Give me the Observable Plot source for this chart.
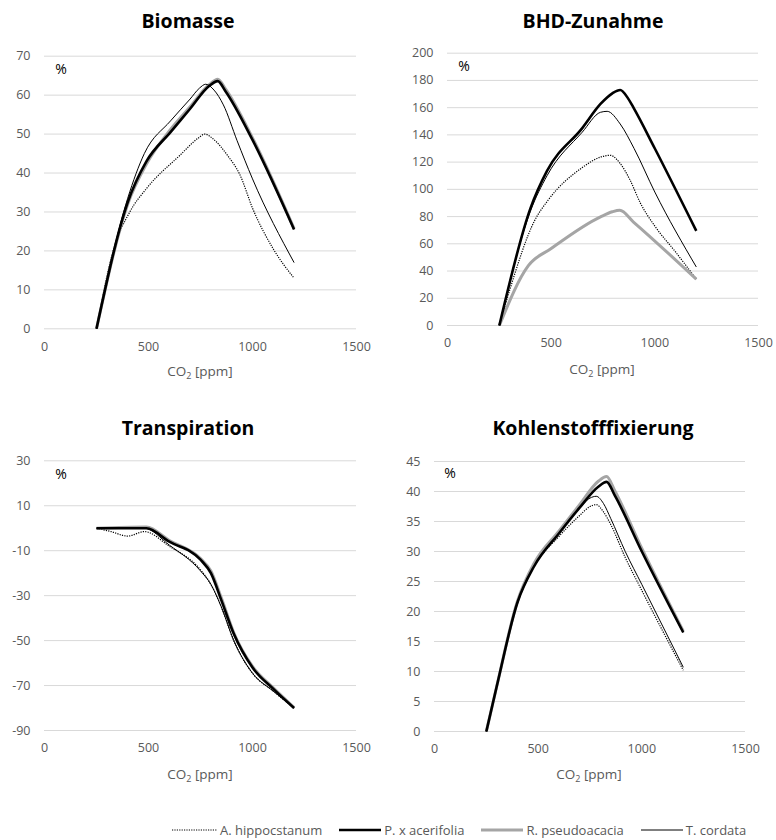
<!DOCTYPE html>
<html>
<head>
<meta charset="utf-8">
<script src="https://cdn.jsdelivr.net/npm/d3@7"></script>
<script src="https://cdn.jsdelivr.net/npm/@observablehq/plot@0.6"></script>
<style>
  html, body { margin: 0; padding: 0; background: #fff; }
  #root { position: relative; width: 776px; height: 840px; overflow: hidden; font-family: "Open Sans", sans-serif; background: #fff; }
  .title { position: absolute; font-weight: 700; font-size: 19.5px; color: #000; transform: translate(-50%, -50%); white-space: nowrap; line-height: 1; }
  .pct { position: absolute; font-size: 14px; color: #000; transform: translate(-50%, -50%); line-height: 1; }
  .xlab { position: absolute; font-size: 13.5px; color: #595959; transform: translate(-50%, -50%); white-space: nowrap; line-height: 1; }
  .xlab sub { font-size: 9px; line-height: 0; vertical-align: -3px; }
  .panel { position: absolute; }
  #legend { position: absolute; left: 172px; top: 820px; display: flex; align-items: center; font-size: 13px; color: #595959; white-space: nowrap; line-height: 20px; }
  #legend .item { display: flex; align-items: center; margin-right: 17px; }
  #legend svg { margin-right: 3px; }
</style>
</head>
<body>
<div id="root"></div>
<script>
// ---------- data ----------
const species = ["A. hippocstanum", "P. x acerifolia", "R. pseudoacacia", "T. cordata"];
const ppmTicks = [0, 500, 1000, 1500];

// Biomasse (%)
const bioTicks = [0, 10, 20, 30, 40, 50, 60, 70];
const bioHip = [[250,0],[330,20],[410,30],[490,36],[650,44.5],[740,49],[770,50],[810,48.8],[880,44.5],[940,39.5],[1000,31],[1100,20.5],[1200,13]];
const bioAce = [[250,0],[400,32.5],[490,43],[606,50.5],[700,56.5],[790,62.3],[833,63.6],[870,61],[1000,48.5],[1200,25.5]];
const bioRob = [[250,0],[400,32],[490,42.3],[606,51.2],[700,57],[790,62.6],[833,64.1],[870,61.6],[1000,49],[1200,25.7]];
const bioCor = [[250,0],[400,33.5],[480,45],[606,53.4],[700,59],[745,61.8],[775,62.8],[815,61.3],[860,57.5],[926,48.3],[1000,38.5],[1200,17]];

// BHD-Zunahme (%)
const bhdTicks = [0, 20, 40, 60, 80, 100, 120, 140, 160, 180, 200];
const bhdHip = [[250,0],[300,26],[420,77],[485,92],[650,116],[738,123.7],[785,125],[833,119],[880,107],[930,90],[1000,73],[1100,54],[1200,34]];
const bhdAce = [[250,0],[400,86],[480,113.5],[650,145],[738,162.7],[795,170.5],[833,173],[870,167],[897,160],[1000,130],[1200,69.5]];
const bhdRob = [[250,0],[390,44],[500,56.5],[738,79.8],[795,83.5],[831,84.6],[897,76],[1200,34]];
const bhdCor = [[250,0],[400,84],[480,110],[650,142],[738,156.6],[770,157.3],[833,148],[900,130],[1000,98],[1200,43]];

// Transpiration (%)
const trTicks = [-90, -70, -50, -30, -10, 10, 30];
const trHip = [[250,0],[320,-1.5],[400,-3.5],[480,-1.5],[600,-8],[750,-18.5],[800,-25],[850,-35],[910,-50],[1000,-64.5],[1100,-72.5],[1200,-80]];
const trAce = [[250,0],[490,0],[600,-6],[750,-14],[800,-20],[850,-32],[910,-47],[1000,-62],[1100,-71.5],[1200,-80]];
const trRob = [[250,0],[490,0.5],[600,-5.5],[750,-13.5],[800,-19],[850,-31],[910,-46.5],[1000,-61.5],[1100,-71],[1200,-79.8]];
const trCor = [[250,0],[480,0],[600,-7.5],[750,-19],[800,-25],[850,-35],[910,-50],[1000,-64.5],[1100,-72.5],[1200,-80]];

// Kohlenstofffixierung (%)
const koTicks = [0, 5, 10, 15, 20, 25, 30, 35, 40, 45];
const koHip = [[250,0],[300,7.5],[400,21.5],[480,27.5],[600,32.5],[700,36],[750,37.5],[780,37.8],[815,36.6],[850,34.5],[920,29],[1000,23.5],[1200,10.2]];
const koAce = [[250,0],[300,7.5],[400,21.5],[480,27.5],[600,33],[700,37.3],[790,40.8],[830,41.6],[870,39.3],[1000,30],[1200,16.5]];
const koRob = [[250,0],[300,7.5],[400,21.7],[480,28],[600,33.4],[700,37.8],[790,41.7],[830,42.5],[870,40.1],[1000,30.5],[1200,16.7]];
const koCor = [[250,0],[300,7.5],[400,21.5],[480,27.5],[600,33],[690,36.8],[750,38.9],[780,39.2],[815,38],[850,35.5],[920,30],[1000,24.5],[1200,10.7]];

// ---------- styles ----------
const seriesStyle = [
  {stroke: "#000", strokeWidth: 1.2, strokeDasharray: "1.2 1.2"},
  {stroke: "#000", strokeWidth: 2.6},
  {stroke: "#a5a5a5", strokeWidth: 3},
  {stroke: "#000", strokeWidth: 1}
];
const drawOrder = [0, 2, 1, 3];

const panels = [
  {title: "Biomasse", series: [bioHip, bioAce, bioRob, bioCor], ticks: bioTicks, domain: [0, 70],
   left: 0, top: 40, height: 320, mt: 15.7, mb: 31.7, ml: 44, mr: 32,
   titleX: 188, titleY: 21, pctX: 61, pctY: 69, labX: 200, labY: 372},
  {title: "BHD-Zunahme", series: [bhdHip, bhdAce, bhdRob, bhdCor], ticks: bhdTicks, domain: [0, 200],
   left: 388, top: 40, height: 320, mt: 12.7, mb: 35, ml: 59, mr: 18,
   titleX: 593, titleY: 21, pctX: 464, pctY: 66, labX: 602, labY: 370},
  {title: "Transpiration", series: [trHip, trAce, trRob, trCor], ticks: trTicks, domain: [-90, 30],
   left: 0, top: 420, height: 340, mt: 40.3, mb: 30, ml: 44, mr: 32,
   titleX: 188, titleY: 428, pctX: 61, pctY: 474, labX: 200, labY: 775},
  {title: "Kohlenstofffixierung", series: [koHip, koAce, koRob, koCor], ticks: koTicks, domain: [0, 45],
   left: 388, top: 420, height: 340, mt: 41, mb: 29, ml: 46, mr: 31,
   titleX: 593, titleY: 428, pctX: 450, pctY: 473, labX: 589, labY: 775}
];

const root = document.getElementById("root");

function addDiv(cls, html, x, y) {
  const d = document.createElement("div");
  d.className = cls;
  d.innerHTML = html;
  d.style.left = x + "px";
  d.style.top = y + "px";
  root.appendChild(d);
}

for (const p of panels) {
  const marks = [
    Plot.gridY(p.ticks, {stroke: "#d9d9d9", strokeOpacity: 1, strokeWidth: 1}),
    Plot.axisY(p.ticks, {tickSize: 0, tickPadding: 14, label: null, fontSize: 12.5, color: "#595959", tickFormat: d => String(d)}),
    Plot.axisX(ppmTicks, {tickSize: 0, tickPadding: 13, label: null, fontSize: 12.5, color: "#595959", tickFormat: d => String(d)}),
    ...drawOrder.map(i => Plot.line(p.series[i], {
      x: d => d[0], y: d => d[1], curve: "monotone-x",
      strokeLinejoin: "round", strokeLinecap: "butt", ...seriesStyle[i]
    }))
  ];
  const svg = Plot.plot({
    width: 388, height: p.height,
    marginTop: p.mt, marginBottom: p.mb, marginLeft: p.ml, marginRight: p.mr,
    x: {domain: [0, 1500]},
    y: {domain: p.domain},
    style: {fontFamily: "'Open Sans', sans-serif", fontSize: "12.5px", color: "#595959", background: "transparent", overflow: "visible"},
    marks
  });
  svg.classList.add("panel");
  svg.style.left = p.left + "px";
  svg.style.top = p.top + "px";
  root.appendChild(svg);

  addDiv("title", p.title, p.titleX, p.titleY);
  addDiv("pct", "%", p.pctX, p.pctY);
  addDiv("xlab", "CO<sub>2</sub> [ppm]", p.labX, p.labY);
}

// legend
const legend = document.createElement("div");
legend.id = "legend";
species.forEach((name, i) => {
  const item = document.createElement("div");
  item.className = "item";
  const s = seriesStyle[i];
  const sw = i === 0 ? 45 : 42;
  item.innerHTML =
    `<svg width="${sw}" height="10"><line x1="0" x2="${sw}" y1="5" y2="5" stroke="${s.stroke}" stroke-width="${s.strokeWidth}" ${s.strokeDasharray ? `stroke-dasharray="${s.strokeDasharray}"` : ""}/></svg><span>${name}</span>`;
  legend.appendChild(item);
});
root.appendChild(legend);
</script>
</body>
</html>
